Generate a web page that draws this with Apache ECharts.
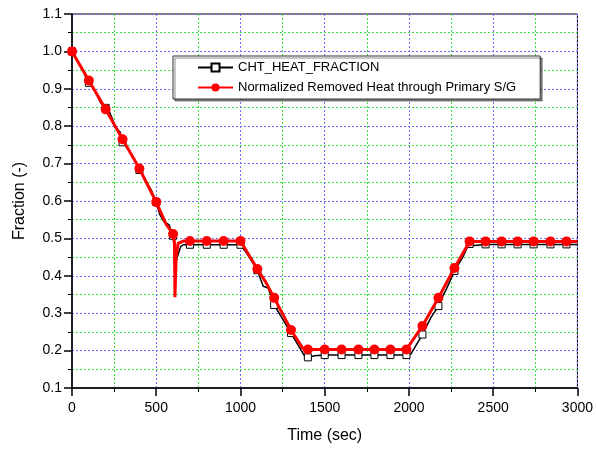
<!DOCTYPE html>
<html>
<head>
<meta charset="utf-8">
<script src="https://cdn.jsdelivr.net/npm/echarts@6/dist/echarts.min.js"></script>
<style>
  html, body { margin: 0; padding: 0; background: #fff; }
  #chart { width: 596px; height: 453px; }
</style>
</head>
<body>
<div id="chart"></div>
<script>
// times (sec) where the markers are drawn
var markTimes = [0, 100, 200, 300, 400, 500, 600, 700, 800, 900, 1000, 1100, 1200, 1300, 1400,
  1500, 1600, 1700, 1795, 1890, 1985, 2080, 2175, 2270, 2360, 2455, 2550, 2645, 2740, 2840, 2935];

// CHT_HEAT_FRACTION
var chtTimes = [0, 70, 85, 100, 115, 150, 170, 200, 215, 240, 255, 285, 300, 330, 370, 400, 430, 470, 500,
  520, 545, 575, 600, 613, 625, 645, 660, 700, 800, 900, 1000, 1040, 1100, 1120, 1135, 1165, 1200,
  1300, 1380, 1400, 1440, 1500, 1600, 1700, 1795, 1890, 1985, 2010, 2080, 2130, 2175, 2200, 2225,
  2270, 2320, 2350, 2360, 2455, 2550, 2645, 2740, 2840, 2935, 3000];
var chtValues = [1.0, 0.945, 0.925, 0.916, 0.912, 0.885, 0.862, 0.849, 0.845, 0.82, 0.797, 0.785, 0.757,
  0.74, 0.71, 0.683, 0.66, 0.63, 0.597, 0.565, 0.545, 0.537, 0.507, 0.43, 0.45, 0.478, 0.483, 0.483,
  0.483, 0.483, 0.483, 0.458, 0.415, 0.39, 0.372, 0.367, 0.322, 0.247, 0.186, 0.182, 0.186, 0.188,
  0.188, 0.188, 0.188, 0.188, 0.188, 0.19, 0.243, 0.288, 0.319, 0.345, 0.367, 0.413, 0.45, 0.48,
  0.485, 0.484, 0.484, 0.484, 0.484, 0.484, 0.484, 0.484];

// Normalized Removed Heat through Primary S/G
var sgTimes = [0, 100, 200, 300, 400, 500, 560, 600, 608, 611, 618, 630, 660, 700, 800, 900, 1000,
  1100, 1150, 1200, 1300, 1370, 1400, 1500, 1600, 1700, 1795, 1890, 1985, 2080, 2175, 2270, 2360,
  2455, 2550, 2645, 2740, 2840, 2935, 3000];
var sgValues = [1.0, 0.922, 0.845, 0.765, 0.687, 0.597, 0.537, 0.512, 0.49, 0.343, 0.45, 0.487, 0.493,
  0.493, 0.493, 0.493, 0.493, 0.418, 0.383, 0.341, 0.255, 0.206, 0.203, 0.203, 0.203, 0.203, 0.203,
  0.203, 0.203, 0.266, 0.341, 0.421, 0.492, 0.492, 0.492, 0.492, 0.492, 0.492, 0.492, 0.492];

var fontName = "'Liberation Sans', Arial, sans-serif";

// symbol only where time is a marker time
function buildData(times, values) {
  return times.map(function (t, i) {
    var item = { value: [t, values[i]] };
    if (markTimes.indexOf(t) < 0) item.symbol = 'none';
    return item;
  });
}

var chart = echarts.init(document.getElementById('chart'), null, { renderer: 'canvas' });

var blueGrid = { show: true, lineStyle: { color: '#6b6bff', width: 1, type: [2, 2] } };
var greenGrid = { show: true, lineStyle: { color: '#3be23b', width: 1, type: [2, 2] } };

var option = {
  backgroundColor: '#fff',
  animation: false,
  grid: { left: 72, right: 17, top: 14, bottom: 65, show: true, borderColor: '#000', borderWidth: 1 },
  legend: {
    orient: 'vertical',
    left: 173,
    top: 56,
    padding: [5, 24, 5, 24],
    itemGap: 7,
    itemWidth: 35,
    itemHeight: 10,
    backgroundColor: '#fff',
    borderColor: '#333',
    borderWidth: 1,
    shadowColor: 'rgba(0,0,0,0.45)',
    shadowOffsetX: 2,
    shadowOffsetY: 2,
    shadowBlur: 0,
    textStyle: { fontFamily: fontName, fontSize: 13, color: '#000' },
    data: ['CHT_HEAT_FRACTION', 'Normalized Removed Heat through Primary S/G']
  },
  xAxis: {
    type: 'value',
    position: 'bottom',
    min: 0,
    max: 3000,
    interval: 500,
    name: 'Time (sec)',
    nameLocation: 'middle',
    nameGap: 40,
    nameTextStyle: { fontFamily: fontName, fontSize: 16, color: '#000' },
    axisLine: { show: true, onZero: false, lineStyle: { color: '#000', width: 1.5 } },
    axisTick: { show: true, inside: false, length: 8, lineStyle: { color: '#000', width: 1.5 } },
    minorTick: { show: true, splitNumber: 2, length: 4, lineStyle: { color: '#000', width: 1 } },
    axisLabel: {
      fontFamily: fontName, fontSize: 14, color: '#000', margin: 13,
      formatter: function (v) { return String(v); }
    },
    splitLine: blueGrid,
    minorSplitLine: greenGrid
  },
  yAxis: [{
    type: 'value',
    position: 'left',
    min: 0.1,
    max: 1.1,
    interval: 0.1,
    name: 'Fraction (-)',
    nameLocation: 'middle',
    nameGap: 44,
    nameTextStyle: { fontFamily: fontName, fontSize: 16, color: '#000' },
    axisLine: { show: true, onZero: false, lineStyle: { color: '#000', width: 1.5 } },
    axisTick: { show: true, inside: false, length: 8, lineStyle: { color: '#000', width: 1.5 } },
    minorTick: { show: true, splitNumber: 2, length: 4, lineStyle: { color: '#000', width: 1 } },
    axisLabel: {
      fontFamily: fontName, fontSize: 14, color: '#000', margin: 10,
      formatter: function (v) { return v.toFixed(1); }
    },
    splitLine: blueGrid,
    minorSplitLine: greenGrid
  }],
  series: [{
    name: 'CHT_HEAT_FRACTION',
    type: 'line',
    showSymbol: true,
    showAllSymbol: true,
    symbol: 'rect',
    symbolSize: 7,
    itemStyle: { color: '#fff', borderColor: '#000', borderWidth: 1 },
    lineStyle: { color: '#000', width: 1.5 },
    data: buildData(chtTimes, chtValues),
    z: 2
  }, {
    name: 'Normalized Removed Heat through Primary S/G',
    type: 'line',
    showSymbol: true,
    showAllSymbol: true,
    symbol: 'circle',
    symbolSize: 10,
    itemStyle: { color: '#ff0000' },
    lineStyle: { color: '#ff0000', width: 3 },
    data: buildData(sgTimes, sgValues),
    z: 3
  }]
};

chart.setOption(option);
</script>
</body>
</html>
